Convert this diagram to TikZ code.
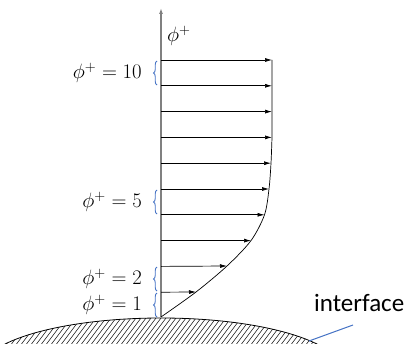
\documentclass[tikz,border=0pt]{standalone}
\usepackage{fontspec}
\newfontfamily\carlito{Carlito}
\usetikzlibrary{arrows.meta,decorations.pathreplacing}
\definecolor{braceblue}{RGB}{68,114,196}
\definecolor{axisgray}{RGB}{128,128,128}
\begin{document}
\begin{tikzpicture}[x=1pt,y=-1pt,
 profarrow/.style={black, line width=0.7pt, -{Latex[length=7pt,width=4pt]}},
 bracestyle/.style={braceblue, line width=0.9pt, decorate, decoration={brace,amplitude=3.5pt}},
 lbl/.style={anchor=east, inner sep=0pt, font=\fontsize{20}{24}\selectfont},
 hatchline/.style={black, line width=0.5pt},
]
\useasboundingbox (0,0) rectangle (415,345);
% ground
\begin{scope}
\clip (0,0) rectangle (415,343.5);
\begin{scope}
\clip (161,370) ellipse [x radius=180, y radius=52];
\foreach \i in {-60,-55,...,360} \draw[hatchline] (\i,346) -- ++(30,-40);
\end{scope}
\draw[line width=0.8pt] (161,370) ellipse [x radius=180, y radius=52];
\end{scope}
% axis
\coordinate (o) at (161,317);
\coordinate (top) at (161,8);
\draw[axisgray, line width=1.6pt, -{Latex[length=6pt,width=4pt]}] (o) -- (top);
\node[anchor=west, inner sep=0pt, font=\fontsize{20}{24}\selectfont] (phi) at (167,36) {$\phi^+$};
% profile curve points
\coordinate (c1) at (196,292);
\coordinate (c2) at (227,266);
\coordinate (c3) at (251,240.6);
\coordinate (c4) at (264.5,214.8);
\coordinate (c5) at (269,189);
\coordinate (c6) at (271,163.2);
\coordinate (c7) at (272,137.4);
\coordinate (c8) at (272,111.6);
\coordinate (c9) at (272,85.8);
\coordinate (c10) at (272,60);
\draw[black, line width=0.7pt] plot[smooth, tension=0.5] coordinates {(161,317) (196,292) (227,266) (251,240.6) (264.5,214.8) (269,189) (271,163.2) (272,137.4)} -- (c10);
% axis start points
\foreach \k/\y in {1/292.2,2/266.4,3/240.6,4/214.8,5/189,6/163.2,7/137.4,8/111.6,9/85.8,10/60}
  \coordinate (a\k) at (161,\y);
\foreach \k in {1,...,10} \draw[profarrow] (a\k) -- (c\k);
% braces
\draw[bracestyle] (157,85) -- (157,61);
\draw[bracestyle] (157,214) -- (157,190);
\draw[bracestyle] (157,291) -- (157,267);
\draw[bracestyle] (157,317) -- (157,293);
% labels
\node[lbl] (l10) at (142,73) {$\phi^+ = 10$};
\node[lbl] (l5) at (142,202) {$\phi^+ = 5$};
\node[lbl] (l2) at (142,279) {$\phi^+ = 2$};
\node[lbl] (l1) at (142,305) {$\phi^+ = 1$};
% interface
\node[anchor=west, inner sep=0pt, font=\carlito\fontsize{25}{30}\selectfont] (intf) at (314,303) {interface};
\coordinate (lead) at (309,341);
\draw[braceblue, line width=1pt] (lead) -- (353,325);
\end{tikzpicture}
\end{document}
